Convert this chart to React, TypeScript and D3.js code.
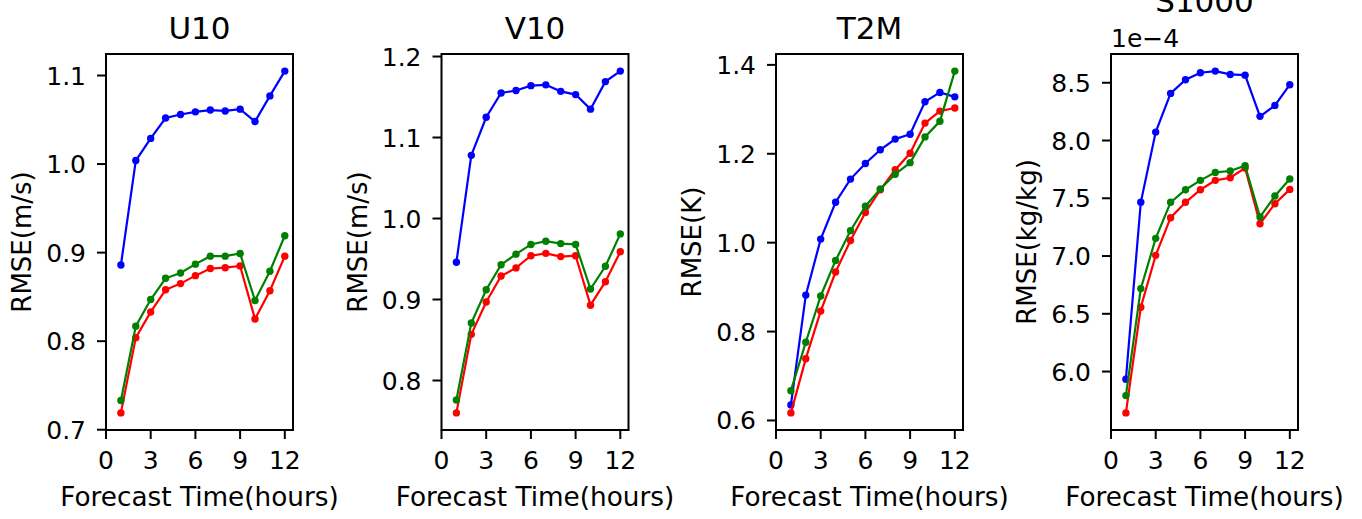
import React from 'react';
import * as d3 from 'd3';

const hours = [1, 2, 3, 4, 5, 6, 7, 8, 9, 10, 11, 12];
const xTicks = [0, 3, 6, 9, 12];

// U10 (m/s)
const u10Blue = [0.886, 1.004, 1.029, 1.052, 1.056, 1.059, 1.061, 1.060, 1.062, 1.048, 1.077, 1.105];
const u10Green = [0.733, 0.817, 0.847, 0.871, 0.877, 0.887, 0.896, 0.896, 0.899, 0.846, 0.879, 0.919];
const u10Red = [0.719, 0.804, 0.833, 0.858, 0.865, 0.874, 0.882, 0.883, 0.885, 0.825, 0.857, 0.896];
const u10Ticks = [0.7, 0.8, 0.9, 1.0, 1.1];

// V10 (m/s)
const v10Blue = [0.946, 1.078, 1.125, 1.155, 1.158, 1.164, 1.165, 1.157, 1.153, 1.135, 1.169, 1.182];
const v10Green = [0.776, 0.871, 0.912, 0.943, 0.956, 0.968, 0.972, 0.969, 0.968, 0.913, 0.941, 0.981];
const v10Red = [0.760, 0.857, 0.897, 0.929, 0.939, 0.954, 0.957, 0.953, 0.954, 0.893, 0.922, 0.959];
const v10Ticks = [0.8, 0.9, 1.0, 1.1, 1.2];

// T2M (K)
const t2mBlue = [0.635, 0.882, 1.008, 1.091, 1.143, 1.178, 1.209, 1.233, 1.244, 1.317, 1.338, 1.328];
const t2mGreen = [0.667, 0.776, 0.880, 0.960, 1.027, 1.082, 1.121, 1.154, 1.180, 1.238, 1.273, 1.386];
const t2mRed = [0.617, 0.739, 0.846, 0.934, 1.005, 1.068, 1.119, 1.164, 1.201, 1.269, 1.296, 1.303];
const t2mTicks = [0.6, 0.8, 1.0, 1.2, 1.4];

// S1000 (kg/kg, in units of 1e-4)
const s1000Blue = [5.934, 7.465, 8.073, 8.408, 8.526, 8.587, 8.601, 8.572, 8.566, 8.209, 8.304, 8.483];
const s1000Green = [5.792, 6.718, 7.153, 7.465, 7.574, 7.655, 7.724, 7.736, 7.782, 7.338, 7.520, 7.667];
const s1000Red = [5.642, 6.557, 7.006, 7.332, 7.465, 7.574, 7.655, 7.678, 7.762, 7.280, 7.453, 7.577];
const s1000Ticks = [6.0, 6.5, 7.0, 7.5, 8.0, 8.5];

const panels = [
  { title: 'U10', ylabel: 'RMSE(m/s)', blue: u10Blue, green: u10Green, red: u10Red, ticks: u10Ticks, offset: '' },
  { title: 'V10', ylabel: 'RMSE(m/s)', blue: v10Blue, green: v10Green, red: v10Red, ticks: v10Ticks, offset: '' },
  { title: 'T2M', ylabel: 'RMSE(K)', blue: t2mBlue, green: t2mGreen, red: t2mRed, ticks: t2mTicks, offset: '' },
  { title: 'S1000', ylabel: 'RMSE(kg/kg)', blue: s1000Blue, green: s1000Green, red: s1000Red, ticks: s1000Ticks, offset: '1e\u22124' },
];

const W = 1362;
const H = 519;
const lefts = [106, 441.5, 776, 1111];
const pw = 187;
const top = 54;
const bottom = 430;
const font = 'DejaVu Sans, sans-serif';

function Panel({ p, left }) {
  const all = [...p.blue, ...p.green, ...p.red];
  const [lo, hi] = d3.extent(all);
  const m = (hi - lo) * 0.05;
  const x = d3.scaleLinear().domain([0, 12.55]).range([left, left + pw]);
  const y = d3.scaleLinear().domain([lo - m, hi + m]).range([bottom, top]);
  const line = d3.line().x((d, i) => x(hours[i])).y(d => y(d));
  const fmt = d3.format('.1f');
  const series = [
    { vals: p.blue, color: '#0000ff' },
    { vals: p.red, color: '#ff0000' },
    { vals: p.green, color: '#008000' },
  ];
  const cx = left + pw / 2;
  return (
    <g>
      {series.map((s, k) => (
        <g key={k}>
          <path d={line(s.vals)} fill="none" stroke={s.color} strokeWidth={2.2} />
          {s.vals.map((v, i) => (
            <circle key={i} cx={x(hours[i])} cy={y(v)} r={3.7} fill={s.color} />
          ))}
        </g>
      ))}
      <rect x={left} y={top} width={pw} height={bottom - top} fill="none" stroke="#000" strokeWidth={2} />
      {xTicks.map(t => (
        <g key={t}>
          <line x1={x(t)} x2={x(t)} y1={bottom} y2={bottom + 9} stroke="#000" strokeWidth={2} />
          <text x={x(t)} y={bottom + 39} textAnchor="middle" fontSize={25} fontFamily={font}>{t}</text>
        </g>
      ))}
      {p.ticks.map(t => (
        <g key={t}>
          <line x1={left - 9} x2={left} y1={y(t)} y2={y(t)} stroke="#000" strokeWidth={2} />
          <text x={left - 20} y={y(t)} dy="0.36em" textAnchor="end" fontSize={25} fontFamily={font}>{fmt(t)}</text>
        </g>
      ))}
      <text x={cx} y={506} textAnchor="middle" fontSize={26.3} fontFamily={font}>Forecast Time(hours)</text>
      <text transform={`translate(${left - 75},${(top + bottom) / 2}) rotate(-90)`} textAnchor="middle" fontSize={26} fontFamily={font}>{p.ylabel}</text>
      {p.offset && (
        <text x={left} y={47} fontSize={25} fontFamily={font}>{p.offset}</text>
      )}
      <text x={cx} y={p.offset ? 12 : 39} textAnchor="middle" fontSize={31} fontFamily={font}>{p.title}</text>
    </g>
  );
}

export default function App() {
  return (
    <svg width={W} height={H} style={{ position: 'absolute', left: 0, top: 0, background: '#fff' }}>
      <rect width={W} height={H} fill="#fff" />
      {panels.map((p, i) => (
        <Panel key={p.title} p={p} left={lefts[i]} />
      ))}
    </svg>
  );
}
